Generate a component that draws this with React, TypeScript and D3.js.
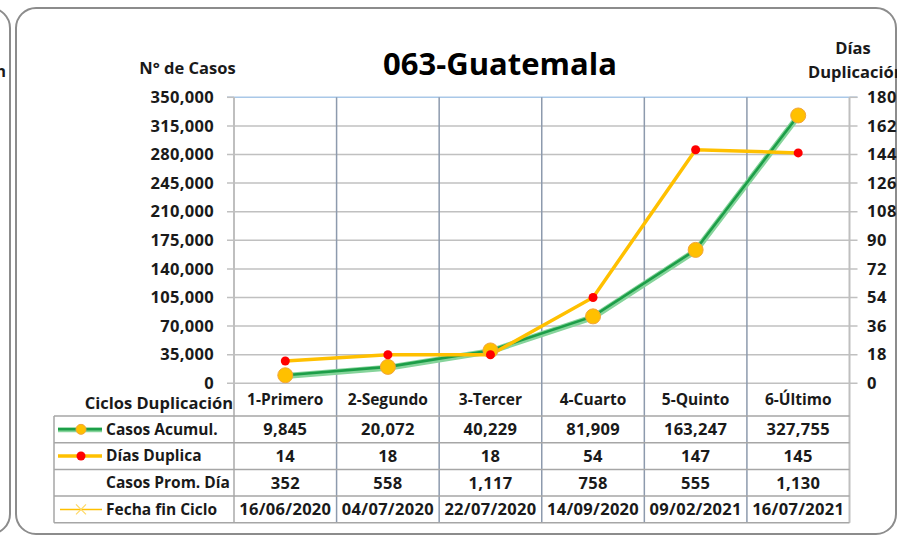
import React from "react";
import * as d3 from "d3";

const categories = ["1-Primero", "2-Segundo", "3-Tercer", "4-Cuarto", "5-Quinto", "6-Último"];
const casosAcumul = [9845, 20072, 40229, 81909, 163247, 327755];
const diasDuplica = [14, 18, 18, 54, 147, 145];
const casosPromDia = ["352", "558", "1,117", "758", "555", "1,130"];
const fechaFinCiclo = ["16/06/2020", "04/07/2020", "22/07/2020", "14/09/2020", "09/02/2021", "16/07/2021"];
const leftTicks = [0, 35000, 70000, 105000, 140000, 175000, 210000, 245000, 280000, 315000, 350000];
const rightTicks = [0, 18, 36, 54, 72, 90, 108, 126, 144, 162, 180];

const W = 897;
const H = 535;
const FONT = "'Open Sans', 'DejaVu Sans', sans-serif";
const TXT = "#1a1a1a";

export default function App() {
  const plotL = 234;
  const plotR = 849.5;
  const plotT = 97.3;
  const plotB = 383.3;
  const x = d3.scaleBand<string>().domain(categories).range([plotL, plotR]).padding(0);
  const yL = d3.scaleLinear().domain([0, 350000]).range([plotB, plotT]);
  const yR = d3.scaleLinear().domain([0, 180]).range([plotB, plotT]);
  const cx = (c: string) => (x(c) as number) + x.bandwidth() / 2;

  const casosPts: [number, number][] = categories.map((c, i) => [cx(c), yL(casosAcumul[i])]);
  const diasPts: [number, number][] = categories.map((c, i) => [cx(c), yR(diasDuplica[i])]);
  const line = d3.line();

  const tableTop = 416;
  const rowH = 26.7;
  const tableLeft = 54;
  const rows = 4;
  const tableBottom = tableTop + rows * rowH;
  const rowMid = (r: number) => tableTop + rowH * r + rowH / 2;
  const labelX = 106;

  const rowValues = [
    casosAcumul.map((v) => d3.format(",")(v)),
    diasDuplica.map((v) => String(v)),
    casosPromDia,
    fechaFinCiclo,
  ];
  const rowLabels = ["Casos Acumul.", "Días Duplica", "Casos Prom. Día", "Fecha fin Ciclo"];

  const gridV = "#8d9aad";
  const gridH = "#c0c0c0";
  const tableLine = "#a6a6a6";

  return (
    <svg
      width={W}
      height={H}
      style={{ position: "absolute", left: 0, top: 0, background: "#fff" }}
      fontFamily={FONT}
    >
      {/* panels */}
      <rect x={-870} y={8} width={880} height={526} rx={20} fill="none" stroke="#8c8c8c" strokeWidth={2} />
      <text x={6} y={77} fontSize={16} fontWeight={700} textAnchor="end" fill={TXT}>Duplicación</text>
      <rect x={16} y={8} width={880} height={526} rx={20} fill="none" stroke="#8c8c8c" strokeWidth={2} />

      {/* titles */}
      <text x={500} y={75} fontSize={31} fontWeight={700} textAnchor="middle" fill="#000">063-Guatemala</text>
      <text x={187.5} y={74} fontSize={16.5} fontWeight={700} textAnchor="middle" fill={TXT}>N° de Casos</text>
      <text x={853} y={54} fontSize={16.5} fontWeight={700} textAnchor="middle" fill={TXT}>Días</text>
      <text x={808} y={78} fontSize={16.5} fontWeight={700} textAnchor="start" fill={TXT}>Duplicación</text>

      {/* horizontal gridlines */}
      {leftTicks.map((t) => (
        <line key={"h" + t} x1={plotL - 7} x2={plotR + 8} y1={yL(t)} y2={yL(t)}
          stroke={t === 350000 ? "#a9c8e8" : gridH} strokeWidth={1.5} />
      ))}
      <line x1={plotL - 7} x2={plotL} y1={plotT} y2={plotT} stroke={gridH} strokeWidth={1.5} />
      <line x1={plotR} x2={plotR + 8} y1={plotT} y2={plotT} stroke={gridH} strokeWidth={1.5} />

      {/* vertical category lines through plot and table */}
      {categories.slice(1).map((c) => (
        <line key={"v" + c} x1={x(c) as number} x2={x(c) as number} y1={plotT} y2={tableBottom}
          stroke={gridV} strokeWidth={1.5} />
      ))}
      {/* axes */}
      <line x1={plotL} x2={plotL} y1={plotT} y2={tableBottom} stroke="#bfbfbf" strokeWidth={2} />
      <line x1={plotR} x2={plotR} y1={plotT} y2={tableBottom} stroke="#bfbfbf" strokeWidth={2} />

      {/* left axis labels */}
      {leftTicks.map((t) => (
        <text key={"l" + t} x={214} y={yL(t)} dy="0.35em" fontSize={16.5} fontWeight={700} letterSpacing={0.3} textAnchor="end" fill={TXT}>
          {d3.format(",")(t)}
        </text>
      ))}
      {/* right axis labels */}
      {rightTicks.map((t) => (
        <text key={"r" + t} x={867} y={yR(t)} dy="0.35em" fontSize={16.5} fontWeight={700} letterSpacing={0.6} textAnchor="start" fill={TXT}>
          {t}
        </text>
      ))}

      {/* Casos Acumul. line */}
      <path d={line(casosPts.map(([a, b]) => [a, b + 0.8] as [number, number])) || ""} fill="none" stroke="#86d49b" strokeWidth={6} />
      <path d={line(casosPts) || ""} fill="none" stroke="#1c9e48" strokeWidth={2.6} />
      {/* Días Duplica line */}
      <path d={line(diasPts) || ""} fill="none" stroke="#FFC000" strokeWidth={3.5} />
      {casosPts.map(([a, b], i) => (
        <circle key={"cm" + i} cx={a} cy={b} r={7.5} fill="#FFC000" stroke="#f2a53a" strokeWidth={1} />
      ))}
      {diasPts.map(([a, b], i) => (
        <circle key={"dm" + i} cx={a} cy={b} r={4.5} fill="#FF0000" />
      ))}

      {/* header row */}
      <text x={233} y={403} dy="0.35em" fontSize={16.5} fontWeight={700} textAnchor="end" fill={TXT}>Ciclos Duplicación</text>
      {categories.map((c) => (
        <text key={"hc" + c} x={cx(c)} y={400} dy="0.35em" fontSize={15.5} fontWeight={700} textAnchor="middle" fill={TXT}>{c}</text>
      ))}

      {/* table grid */}
      {d3.range(rows + 1).map((r) => (
        <line key={"tr" + r} x1={tableLeft} x2={plotR} y1={tableTop + r * rowH} y2={tableTop + r * rowH}
          stroke={tableLine} strokeWidth={1.5} />
      ))}
      <line x1={tableLeft} x2={tableLeft} y1={tableTop} y2={tableBottom} stroke={tableLine} strokeWidth={1.5} />

      {/* legend keys */}
      <line x1={58} x2={102} y1={rowMid(0) + 0.5} y2={rowMid(0) + 0.5} stroke="#86d49b" strokeWidth={5} />
      <line x1={58} x2={102} y1={rowMid(0)} y2={rowMid(0)} stroke="#1c9e48" strokeWidth={2.5} />
      <circle cx={81} cy={rowMid(0)} r={5} fill="#FFC000" stroke="#f2a53a" strokeWidth={1} />
      <line x1={58} x2={102} y1={rowMid(1)} y2={rowMid(1)} stroke="#FFC000" strokeWidth={3.5} />
      <circle cx={81} cy={rowMid(1)} r={4.5} fill="#FF0000" />
      <line x1={60} x2={102} y1={rowMid(3)} y2={rowMid(3)} stroke="#FFC000" strokeWidth={1.5} />
      <path d={`M${76},${rowMid(3) - 5}L${86},${rowMid(3) + 5}M${76},${rowMid(3) + 5}L${86},${rowMid(3) - 5}`} stroke="#ffd966" strokeWidth={1.2} />

      {rowLabels.map((lab, r) => (
        <text key={"rl" + r} x={labelX} y={rowMid(r)} dy="0.35em" fontSize={15.5} fontWeight={700} textAnchor="start" fill={TXT}>{lab}</text>
      ))}
      {rowValues.map((vals, r) =>
        vals.map((v, i) => (
          <text key={"rv" + r + "-" + i} x={cx(categories[i])} y={rowMid(r)} dy="0.35em" fontSize={16.5} fontWeight={700}
            letterSpacing={0.3} textAnchor="middle" fill={TXT}>{v}</text>
        ))
      )}
    </svg>
  );
}
